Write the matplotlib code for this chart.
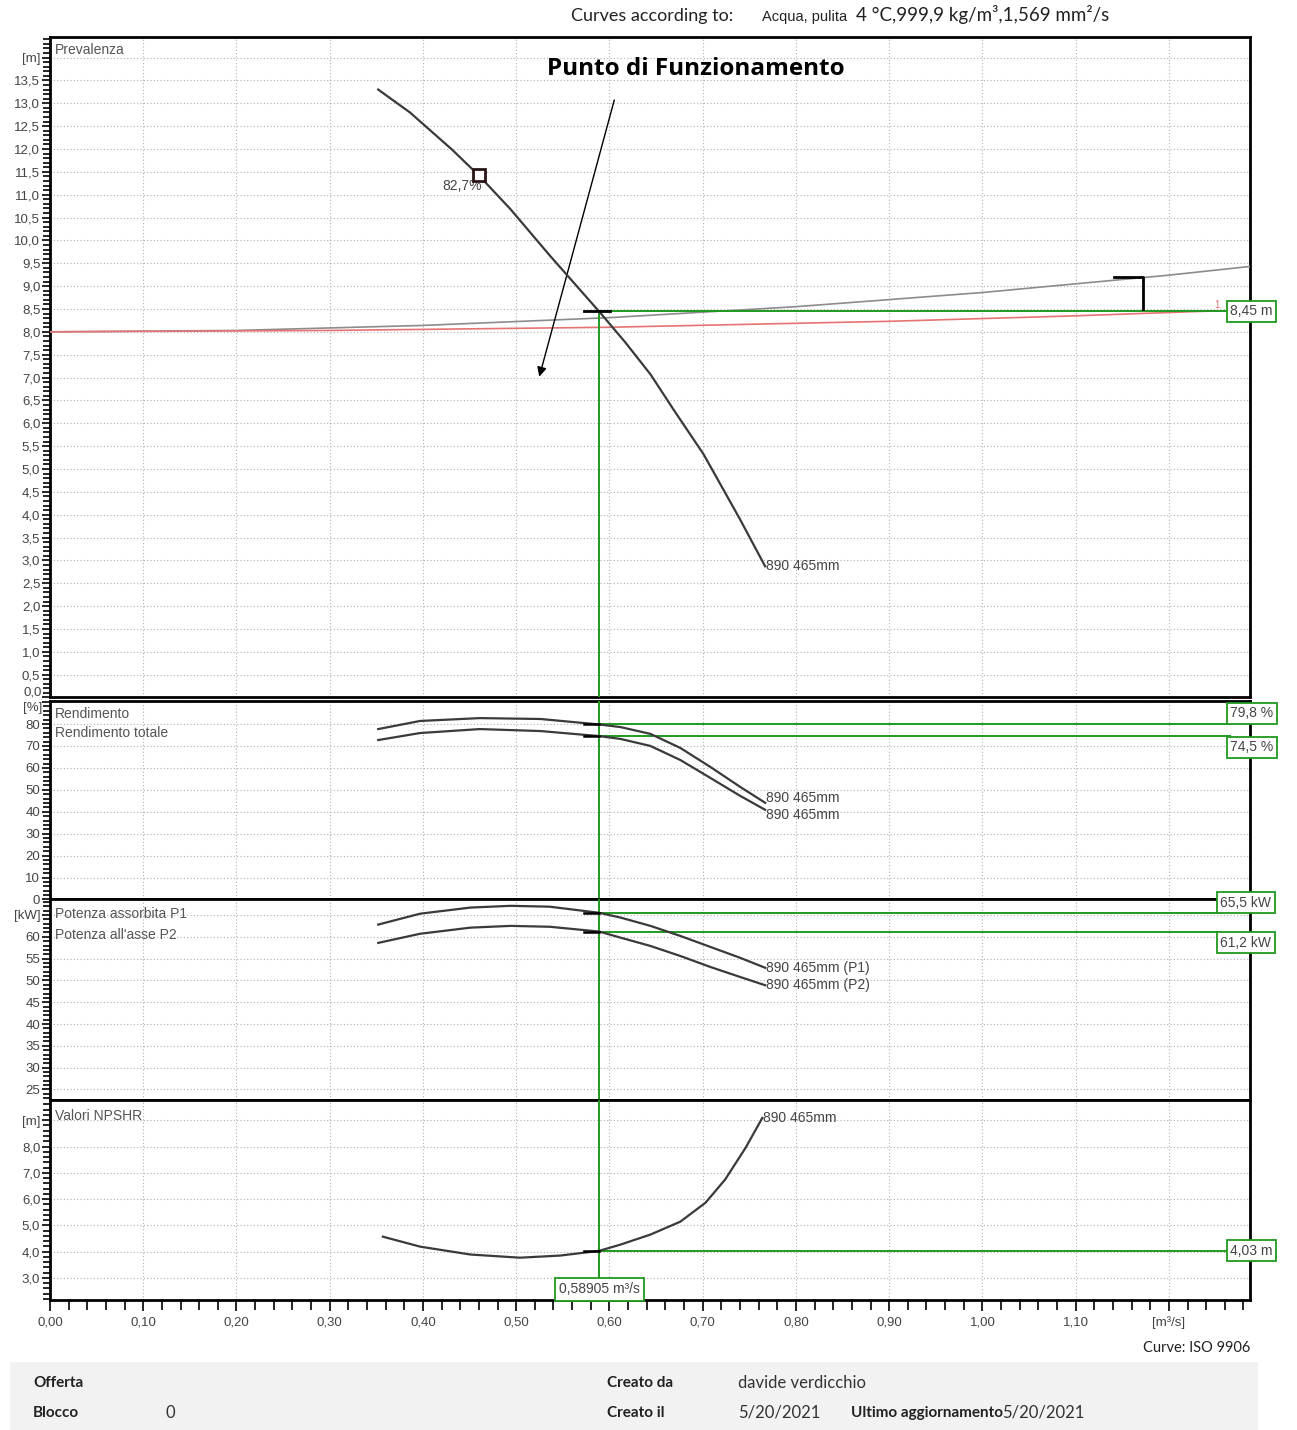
import matplotlib
matplotlib.use("Agg")
import matplotlib.pyplot as plt
from matplotlib.ticker import MultipleLocator, FuncFormatter
from matplotlib.patches import Rectangle

# ---------------- data ----------------
# Head curve (Prevalenza) 890 465mm
q_head = [0.352, 0.386, 0.431, 0.460, 0.494, 0.536, 0.590, 0.617, 0.644, 0.670, 0.701, 0.740, 0.767]
h_head = [13.30, 12.80, 11.99, 11.42, 10.68, 9.67, 8.42, 7.77, 7.07, 6.26, 5.32, 3.90, 2.87]

# System curves
q_sys_gray = [0.0, 0.2, 0.4, 0.6, 0.8, 1.0, 1.2, 1.287]
h_sys_gray = [8.00, 8.03, 8.14, 8.31, 8.55, 8.86, 9.24, 9.43]
q_sys_red = [0.0, 0.3, 0.6, 0.9, 1.1, 1.252]
h_sys_red = [8.00, 8.03, 8.10, 8.23, 8.35, 8.46]

# Efficiency curves
q_eff = [0.352, 0.397, 0.461, 0.526, 0.589, 0.612, 0.644, 0.676, 0.708, 0.740, 0.767]
eta = [77.7, 81.4, 82.7, 82.3, 79.8, 78.6, 75.5, 69.1, 60.5, 51.4, 44.1]
eta_tot = [72.7, 75.9, 77.7, 76.8, 74.5, 73.2, 70.0, 63.6, 55.5, 47.3, 40.9]

# Power curves
q_pow = [0.352, 0.397, 0.451, 0.494, 0.536, 0.589, 0.612, 0.644, 0.676, 0.708, 0.740, 0.767]
p1 = [62.8, 65.3, 66.7, 67.1, 66.9, 65.5, 64.4, 62.5, 60.2, 57.7, 55.2, 52.9]
p2 = [58.6, 60.7, 62.1, 62.5, 62.3, 61.2, 59.8, 57.9, 55.6, 53.1, 50.8, 48.9]

# NPSHR curve
q_npsh = [0.357, 0.397, 0.451, 0.504, 0.547, 0.589, 0.612, 0.644, 0.676, 0.703, 0.724, 0.746, 0.764]
npsh = [4.57, 4.19, 3.89, 3.77, 3.85, 4.03, 4.27, 4.65, 5.14, 5.86, 6.74, 7.95, 9.09]

# Duty point / best efficiency point / tolerance bracket
duty_q = 0.58905
duty_head = 8.45
duty_eta = 79.8
duty_eta_tot = 74.5
duty_p1 = 65.5
duty_p2 = 61.2
duty_npsh = 4.03
bep_q, bep_h, bep_eta = 0.460, 11.42, 82.7
tol_q, tol_h_top, tol_h_bot = 1.172, 9.19, 8.51

curve_name = "890 465mm"

# ---------------- figure ----------------
W, H = 1297, 1430
fig = plt.figure(figsize=(W / 100, H / 100), dpi=100)
plt.rcParams['font.family'] = ['Liberation Sans', 'DejaVu Sans']

GREEN = '#1f9a1f'
CURVE = '#3a3a3a'
TXT = '#444444'
LAB = '#555555'
FS = 10
TFS = 9.5


def rect(top, bot):
    return [50 / W, 1 - bot / H, 1200 / W, (bot - top) / H]


def comma(v, nd):
    return f"{v:.{nd}f}".replace('.', ',')


def style(ax, ylim, major, minor, unit, top_val, nd, hide=None):
    ax.set_xlim(0, 1.287)
    ax.set_ylim(*ylim)
    ax.yaxis.set_major_locator(MultipleLocator(major))
    ax.yaxis.set_minor_locator(MultipleLocator(minor))

    def f(v, pos):
        if hide is not None and abs(v - hide) < 1e-6:
            return ''
        if abs(v - top_val) < 1e-6:
            return unit
        return comma(v, nd)
    ax.yaxis.set_major_formatter(FuncFormatter(f))
    ax.xaxis.set_major_locator(MultipleLocator(0.1))
    ax.xaxis.set_minor_locator(MultipleLocator(0.02))
    ax.tick_params(axis='y', which='major', length=6, width=1.2, labelsize=TFS,
                   labelcolor=TXT, pad=1)
    ax.tick_params(axis='y', which='minor', length=5, width=1.2)
    ax.grid(True, which='major', color='#b0b0b0', linestyle=(0, (1, 2)), linewidth=0.8)
    for s in ax.spines.values():
        s.set_linewidth(2)
    ax.set_axisbelow(True)


ax_h = fig.add_axes(rect(37, 697.5))
ax_e = fig.add_axes(rect(701, 899.5))
ax_p = fig.add_axes(rect(899.5, 1099.5))
ax_n = fig.add_axes(rect(1100, 1300))

style(ax_h, (0.0, 14.45), 0.5, 0.1, '[m]', 14.0, 1, hide=0.0)
style(ax_e, (0.0, 90.5), 10, 2, '[%]', 90, 0, hide=90)
style(ax_p, (22.7, 68.55), 5, 1, '[kW]', 65, 0)
style(ax_n, (2.16, 9.77), 1, 0.2, '[m]', 9.0, 1)

# the two crowded labels at the head/efficiency junction, nudged apart
ax_h.annotate(comma(0.0, 1), xy=(0, 0.0), xycoords=('axes fraction', 'data'),
              xytext=(-8, 5), textcoords='offset pixels', ha='right', va='center',
              fontsize=TFS, color=TXT, annotation_clip=False)
ax_e.annotate('[%]', xy=(0, 90), xycoords=('axes fraction', 'data'),
              xytext=(-8, -6), textcoords='offset pixels', ha='right', va='center',
              fontsize=TFS, color=TXT, annotation_clip=False)

for ax in (ax_h, ax_e, ax_p):
    ax.tick_params(axis='x', which='both', bottom=False, labelbottom=False)


def xfmt(v, pos):
    if abs(v - 1.2) < 1e-6:
        return '[m³/s]'
    return comma(v, 2)


ax_n.xaxis.set_major_formatter(FuncFormatter(xfmt))
ax_n.tick_params(axis='x', which='major', length=8, width=1.2, labelsize=TFS,
                 labelcolor=TXT, pad=4)
ax_n.tick_params(axis='x', which='minor', length=7, width=1.2)


def box(ax, x, y, s, **kw):
    ax.text(x, y, s, ha='left', va='center', fontsize=FS, color=TXT, clip_on=False, zorder=10,
            bbox=dict(boxstyle='square,pad=0.25', fc='white', ec=GREEN, lw=1.3), **kw)


# ---------------- head panel ----------------
ax_h.plot(q_sys_gray, h_sys_gray, color='#8c8c8c', lw=1.2, zorder=3)
ax_h.plot(q_sys_red, h_sys_red, color='#e57373', lw=1.2, zorder=3)
ax_h.plot(q_head, h_head, color=CURVE, lw=1.6, zorder=4)
ax_h.plot([duty_q, 1.266], [duty_head, duty_head], color=GREEN, lw=1.4, zorder=3,
          clip_on=False)
ax_h.plot([duty_q, duty_q], [0, duty_head], color=GREEN, lw=1.4, zorder=3)
ax_h.plot([duty_q - 0.016, duty_q + 0.012], [duty_head, duty_head], color='black', lw=2, zorder=5)
ax_h.plot([tol_q - 0.031, tol_q, tol_q], [tol_h_top, tol_h_top, tol_h_bot], color='black', lw=2,
          zorder=5)
ax_h.plot(bep_q, bep_h, marker='s', ms=9, mfc='white', mec='#2a1515', mew=2, zorder=6)
ax_h.annotate(comma(bep_eta, 1) + '%', (bep_q, bep_h), xytext=(3, -11),
              textcoords='offset pixels', ha='right', va='center', fontsize=FS, color=TXT)
ax_h.annotate(curve_name, (q_head[-1], h_head[-1]), xytext=(1, 0), textcoords='offset pixels',
              ha='left', va='center', fontsize=FS, color=TXT)
ax_h.text(1.252, 8.58, '1', color='#e57373', fontsize=7, ha='center', va='center')
box(ax_h, 1.266, duty_head, comma(duty_head, 2) + ' m')
ax_h.text(0.004, 0.980, 'Prevalenza', transform=ax_h.transAxes, ha='left', va='center',
          fontsize=FS, color=LAB)

# annotation
ax_h.text(0.693, 13.74, 'Punto di Funzionamento', ha='center', va='center', fontsize=17.5,
          fontweight='bold', family=['Open Sans', 'DejaVu Sans'], color='black')
ax_h.annotate('', xy=(0.524, 6.96), xytext=(0.606, 13.13),
              arrowprops=dict(arrowstyle='-|>', color='black', lw=1, mutation_scale=14))

# ---------------- efficiency panel ----------------
ax_e.plot(q_eff, eta, color=CURVE, lw=1.6, zorder=4)
ax_e.plot(q_eff, eta_tot, color=CURVE, lw=1.6, zorder=4)
for val, ty in ((duty_eta, 85.0), (duty_eta_tot, 69.5)):
    ax_e.plot([duty_q, 1.266], [val, val], color=GREEN, lw=1.4, zorder=3, clip_on=False)
    box(ax_e, 1.266, ty, comma(val, 1) + ' %')
    ax_e.plot([duty_q - 0.016, duty_q], [val, val], color='black', lw=1.8, zorder=5)
ax_e.axvline(duty_q, color=GREEN, lw=1.4, zorder=3)
ax_e.annotate(curve_name, (q_eff[-1], eta[-1]), xytext=(1, 5), textcoords='offset pixels',
              ha='left', va='center', fontsize=FS, color=TXT)
ax_e.annotate(curve_name, (q_eff[-1], eta_tot[-1]), xytext=(1, -5), textcoords='offset pixels',
              ha='left', va='center', fontsize=FS, color=TXT)
ax_e.text(0.004, 0.934, 'Rendimento', transform=ax_e.transAxes, ha='left', va='center',
          fontsize=FS, color=LAB)
ax_e.text(0.004, 0.838, 'Rendimento totale', transform=ax_e.transAxes, ha='left', va='center',
          fontsize=FS, color=LAB)

# ---------------- power panel ----------------
ax_p.plot(q_pow, p1, color=CURVE, lw=1.6, zorder=4)
ax_p.plot(q_pow, p2, color=CURVE, lw=1.6, zorder=4)
for val, ty in ((duty_p1, 67.85), (duty_p2, 58.6)):
    ax_p.plot([duty_q, 1.255], [val, val], color=GREEN, lw=1.4, zorder=3, clip_on=False)
    box(ax_p, 1.255, ty, comma(val, 1) + ' kW')
    ax_p.plot([duty_q - 0.016, duty_q], [val, val], color='black', lw=1.8, zorder=5)
ax_p.axvline(duty_q, color=GREEN, lw=1.4, zorder=3)
ax_p.annotate(curve_name + ' (P1)', (q_pow[-1], p1[-1]), xytext=(1, 0), textcoords='offset pixels',
              ha='left', va='center', fontsize=FS, color=TXT)
ax_p.annotate(curve_name + ' (P2)', (q_pow[-1], p2[-1]), xytext=(1, 0), textcoords='offset pixels',
              ha='left', va='center', fontsize=FS, color=TXT)
ax_p.text(0.004, 0.925, 'Potenza assorbita P1', transform=ax_p.transAxes, ha='left',
          va='center', fontsize=FS, color=LAB)
ax_p.text(0.004, 0.824, "Potenza all'asse P2", transform=ax_p.transAxes, ha='left',
          va='center', fontsize=FS, color=LAB)

# ---------------- NPSH panel ----------------
ax_n.plot(q_npsh, npsh, color=CURVE, lw=1.6, zorder=4)
ax_n.plot([duty_q, 1.266], [duty_npsh, duty_npsh], color=GREEN, lw=1.4, zorder=3, clip_on=False)
ax_n.plot([duty_q - 0.016, duty_q], [duty_npsh, duty_npsh], color='black', lw=1.8, zorder=5)
box(ax_n, 1.266, duty_npsh, comma(duty_npsh, 2) + ' m')
ax_n.plot([duty_q, duty_q], [2.56, 9.77], color=GREEN, lw=1.4, zorder=3)
ax_n.text(duty_q, 2.56, comma(duty_q, 5) + ' m³/s', ha='center', va='center', fontsize=FS,
          color=TXT, zorder=10,
          bbox=dict(boxstyle='square,pad=0.3', fc='white', ec=GREEN, lw=1.3))
ax_n.annotate(curve_name, (q_npsh[-1], npsh[-1]), xytext=(1, 0), textcoords='offset pixels',
              ha='left', va='center', fontsize=FS, color=TXT)
ax_n.text(0.004, 0.92, 'Valori NPSHR', transform=ax_n.transAxes, ha='left', va='center',
          fontsize=FS, color=LAB)


# ---------------- header & footer ----------------
def fx(px):
    return px / W


def fy(py):
    return 1 - py / H


fig.text(fx(571), fy(16), 'Curves according to:', ha='left', va='center', fontsize=13,
         family=['Lato', 'DejaVu Sans'], color='#222222')
fig.text(fx(762), fy(17), 'Acqua, pulita', ha='left', va='center', fontsize=10.5,
         color='#222222')
fig.text(fx(856), fy(14), '4 °C,999,9 kg/m³,1,569 mm²/s', ha='left', va='center', fontsize=13.5,
         family=['Lato', 'DejaVu Sans'], color='#222222')
fig.text(fx(1250), fy(1348), 'Curve: ISO 9906', ha='right', va='center', fontsize=10.5,
         family=['Lato', 'DejaVu Sans'], color='#222222')

fig.patches.append(Rectangle((fx(10), fy(1430)), (1258 - 10) / W, (1430 - 1362) / H,
                             transform=fig.transFigure, fc='#f2f2f2', ec='none', zorder=0))
bold = dict(fontsize=11, fontweight='bold', family=['Lato', 'DejaVu Sans'], color='#222222',
            ha='left', va='center')
norm = dict(fontsize=12, family=['Lato', 'DejaVu Sans'], color='#333333', ha='left', va='center')
fig.text(fx(33), fy(1383), 'Offerta', **bold)
fig.text(fx(33), fy(1413), 'Blocco', **bold)
fig.text(fx(166), fy(1413), '0', **norm)
fig.text(fx(607), fy(1383), 'Creato da', **bold)
fig.text(fx(607), fy(1413), 'Creato il', **bold)
fig.text(fx(738), fy(1383), 'davide verdicchio', **norm)
fig.text(fx(738), fy(1413), '5/20/2021', **norm)
fig.text(fx(851), fy(1413), 'Ultimo aggiornamento', **bold)
fig.text(fx(1002), fy(1413), '5/20/2021', **norm)

fig.savefig('out.png', dpi=100, facecolor='white')
